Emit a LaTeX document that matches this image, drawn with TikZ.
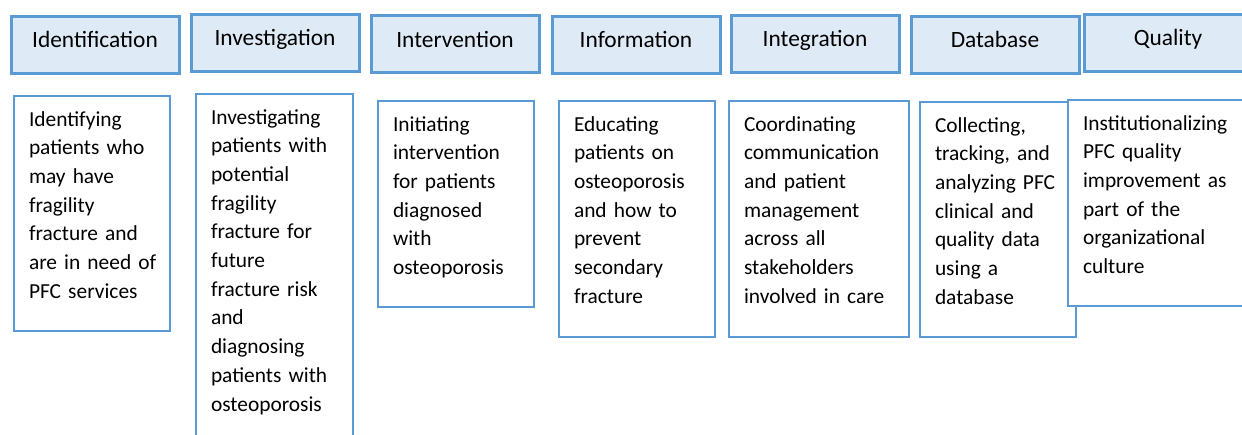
\documentclass[tikz,border=0pt]{standalone}
\usepackage{fontspec}
\setmainfont{Carlito}
\definecolor{boxblue}{HTML}{5B9BD5}
\definecolor{headfill}{HTML}{DEEBF7}
\tikzset
{
    header/.style = {rectangle, draw=boxblue, fill=headfill, line width=3pt, anchor=north west, minimum width=168pt, minimum height=57pt, inner sep=0pt, text height=16pt, text depth=9.5pt, font=\fontsize{23.4}{28}\selectfont},
    detail/.style = {rectangle, draw=boxblue, fill=white, line width=2pt, anchor=north west, align=left, inner xsep=15pt, inner ysep=0pt, text width=#1, text height=30pt, font=\fontsize{21.4}{28.7}\selectfont}
}

\begin{document}
\begin{tikzpicture}[x=1pt, y=-1pt]
\useasboundingbox (0,0) rectangle (1242,434);
% the seven headings
\node [header] at (9.5,14.5) (h1) {Identification};
\node [header] at (189.5,12.5) (h2) {Investigation};
\node [header] at (369.5,14) (h3) {Intervention};
\node [header] at (550.5,14.5) (h4) {Information};
\node [header] at (729.5,13.5) (h5) {Integration};
\node [header] at (909.5,14.5) (h6) {Database};
\node [header] at (1082.5,12.5) (h7) {Quality};
% what each one means (lines broken by hand)
\node [detail=126pt, text depth=205pt] at (13,95) (d1) {Identifying\\ patients who\\ may have\\ fragility\\ fracture and\\ \mbox{are in need of}\\ PFC services};
\node [detail=127pt, text depth=321pt] at (195,93) (d2) {Investigating\\ patients with\\ potential\\ fragility\\ fracture for\\ future\\ fracture risk\\ and\\ diagnosing\\ patients with\\ osteoporosis};
\node [detail=126pt, text depth=176pt] at (377,100) (d3) {Initiating\\ intervention\\ for patients\\ diagnosed\\ with\\ osteoporosis};
\node [detail=126pt, text depth=206pt] at (558,100) (d4) {Educating\\ patients on\\ osteoporosis\\ and how to\\ prevent\\ secondary\\ fracture};
\node [detail=150pt, text depth=206pt] at (728,100) (d5) {Coordinating\\ communication\\ and patient\\ management\\ across all\\ stakeholders\\ involved in care};
\node [detail=126pt, text depth=205pt] at (919,101) (d6) {Collecting,\\ tracking, and\\ analyzing PFC\\ clinical and\\ quality data\\ using a\\ database};
\node [detail=150pt, text depth=176pt] at (1067,99) (d7) {Institutionalizing\\ PFC quality\\ improvement as\\ part of the\\ organizational\\ culture};
\end{tikzpicture}
\end{document}
